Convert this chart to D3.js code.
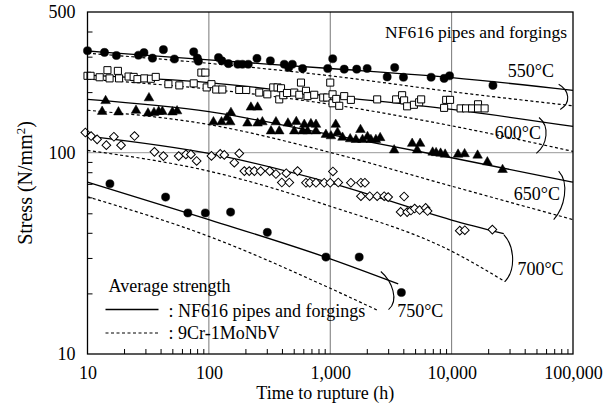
<!DOCTYPE html>
<html>
<head>
<meta charset="utf-8">
<script src="https://cdn.jsdelivr.net/npm/d3@7"></script>
<style>
body { margin: 0; background: #fff; }
text { font-family: "Liberation Serif", "Times New Roman", serif; fill: #000; }
</style>
</head>
<body>
<div id="chart"></div>
<script>
// rupture test points, [time to rupture (h), stress (N/mm2)]
var pts550 = [[10,321],[13.8,315],[17.3,304],[26.3,305],[29.2,314],[34.3,295],[42.2,325],[52,292],[75,317],[80.4,295],[82,285],
  [120,297],[128,286],[145,277],[173,275],[189,275],[211,275],[249,294],[321,286],[418,275],[455,265],[487,275],[592,262],
  [953,262],[1048,293],[1303,260],[1652,260],[2014,262],[2944,238],[3396,265],[4010,237],[6775,237],[8670,234],[9620,241],[21900,216]]
var pts600 = [[10,241],[10.6,241],[12.6,237],[14.6,257],[15.2,234],[17.8,255],[18.2,234],[21.8,239],[24,238],[25.8,232],[29.4,234],
  [33.3,233],[36.5,238],[46.4,219],[57.1,216],[75,221],[86.7,250],[93.5,250],[95.9,211],[105,219],[115,206],[129,206],[178,205],
  [203,205],[260,199],[303,195],[339,211],[368,211],[393,209],[380,184],[410,193],[440,198],[505,199],[574,223],[556,194],
  [631,203],[650,191],[738,194],[875,188],[944,188],[1000,223],[1045,195],[1045,176],[1120,185],[1186,171],[1303,191],[1479,183],
  [2436,184],[3490,184],[3910,193],[4060,182],[4300,170],[4890,173],[5400,178],[5610,184],[9020,183],[9710,183],[8670,167],
  [11860,166],[13150,166],[14750,166],[16500,174],[16500,166],[18700,166]]
var pts650 = [[14.1,181],[13.2,160],[18,159],[25.1,162],[32.1,187],[31.5,157],[35.3,158],[38.6,160],[41.4,160],[50.1,159],[54.7,161],
  [109,142],[127,142],[141,149],[152,158],[150,142],[208,140],[222,168],[252,168],[252,140],[276,142],[325,128],[357,142],[380,128],
  [448,140],[505,128],[525,142.5],[592,128],[611,138],[650,128],[693,139],[763,138],[763,128],[921,123],[1013,121],[1110,138],
  [1148,126],[1262,119],[1460,117],[1627,116],[1775,130],[1844,116],[2027,120],[2162,116],[2377,116],[2578,118.5],[3362,103],
  [4730,111],[5500,111],[5200,103],[6975,100.4],[7450,99.8],[8110,99.2],[8840,98.1],[11300,98.1],[12790,98.6],[16370,97],
  [19700,89.8],[26280,82.3]]
var pts700 = [[9.6,126],[10.7,121],[12,116.5],[14.3,109],[16.5,120],[18.9,109],[24.4,121],[35.6,101],[42.2,96.2],[56.4,96.2],
  [64.7,98.1],[71.1,98.1],[79.3,91],[105,96.4],[124,98.6],[134,97.5],[162,89.2],[178,99.2],[196,81],[215,81],[237,81],[267,81],
  [317,81],[357,78.4],[399,71.1],[434,79.1],[460,71.1],[538,81],[631,70.9],[678,70.9],[763,70.9],[892,70.9],[1000,70.9],
  [1052,80.7],[1164,71.1],[1479,70.9],[1789,70.9],[1930,70.9],[1789,60.8],[2114,60.8],[2436,60.8],[2782,60.8],[3000,60.2],
  [4060,60.6],[3800,50.8],[4300,50.7],[4620,51.6],[4960,52.8],[5450,51.9],[6110,53.2],[6340,51.3],[11670,41],[12840,41.2],[21660,41.5]]
var pts750 = [[15.3,70.1],[44,60.2],[67.1,50.2],[93.5,50.2],[151,50.7],[303,40.2],[921,30.3],[1732,30.3],[3855,20.2]]

// average strength curves
var nf550 = [[10,320],[100,289],[1000,262],[10000,236],[100000,204]]
var cr550 = [[10,312],[100,278],[1000,241],[10000,201],[100000,171]]
var nf600 = [[10,243],[100,223],[1000,191],[10000,164],[100000,135]]
var cr600 = [[10,232],[100,207],[1000,174],[10000,136],[100000,101.5]]
var nf650 = [[10,184],[100,160],[1000,123],[10000,94.4],[100000,71.4]]
var cr650 = [[10,162.5],[100,138],[1000,100.3],[10000,68.2],[100000,46.5]]
var nf700 = [[10,121],[100,99.2],[1000,70.9],[10000,46.3],[26900,39.6]]
var cr700 = [[10,102.7],[100,81],[1000,54.2],[10000,32.4],[27500,22.9]]
var nf750 = [[10,71.4],[100,46.5],[1000,29.7],[3630,22.3]]
var cr750 = [[10,60.4],[100,38.4],[1000,21.2],[2500,16.4]]

var temps = ['550°C', '600°C', '650°C', '700°C', '750°C']
var xTicks = [10, 100, 1000, 10000, 100000]
var yTicks = [10, 100, 500]

// bracket ends and label anchors, in data units
var brackets = [[76200,219,78500,164],[52500,149.5,49900,99.2],[76200,81,69300,46.5],[26900,39.2,27500,22.9],[2610,25.7,3020,16.6]]
var labelAt = [[69700,237,'end'],[54400,116.5,'end'],[78200,58.5,'end'],[83700,24.8,'end'],[3560,15.3,'start']]

var width = 604, height = 414
var pl = 87.5, pr = 573, pt = 12, pb = 354

var x = d3.scaleLog().domain([10, 100000]).range([pl, pr])
var y = d3.scaleLog().domain([10, 500]).range([pb, pt])

var svg = d3.select('#chart').append('svg')
    .attr('width', width)
    .attr('height', height)

// grid
svg.append('g').selectAll('line')
    .data([100, 1000, 10000])
    .enter().append('line')
    .attr('x1', d => x(d)).attr('x2', d => x(d))
    .attr('y1', pt).attr('y2', pb)
    .attr('stroke', '#777').attr('stroke-width', 1)
svg.append('line')
    .attr('x1', pl).attr('x2', pr)
    .attr('y1', y(100)).attr('y2', y(100))
    .attr('stroke', '#999').attr('stroke-width', 1)

// minor ticks, inside
var minorX = [], minorY = []
for (var e = 10; e < 100000; e *= 10) for (var k = 2; k <= 9; k++) minorX.push(k * e)
for (var e = 10; e < 500; e *= 10) for (var k = 2; k <= 9; k++) if (k * e < 500) minorY.push(k * e)

svg.append('g')
    .attr('transform', 'translate(0,' + pb + ')')
    .call(d3.axisBottom(x).tickValues(minorX).tickSize(-5).tickFormat(''))
    .call(g => g.select('.domain').remove())
svg.append('g')
    .attr('transform', 'translate(' + pl + ',0)')
    .call(d3.axisLeft(y).tickValues(minorY).tickSize(-5).tickFormat(''))
    .call(g => g.select('.domain').remove())

// tick labels
svg.append('g')
    .attr('transform', 'translate(0,' + pb + ')')
    .call(d3.axisBottom(x).tickValues(xTicks).tickSize(0).tickPadding(12).tickFormat(d3.format(',')))
    .call(g => g.select('.domain').remove())
    .selectAll('text').style('font-size', '18px').style('font-family', '"Liberation Serif", serif')
svg.append('g')
    .attr('transform', 'translate(' + pl + ',0)')
    .call(d3.axisLeft(y).tickValues(yTicks).tickSize(0).tickPadding(12).tickFormat(d3.format('d')))
    .call(g => g.select('.domain').remove())
    .selectAll('text').style('font-size', '18px').style('font-family', '"Liberation Serif", serif')

// curves
var line = d3.line()
    .x(d => x(d[0]))
    .y(d => y(d[1]))
    .curve(d3.curveMonotoneX)

var solids = [nf550, nf600, nf650, nf700, nf750]
var dashes = [cr550, cr600, cr650, cr700, cr750]

svg.append('g').selectAll('path')
    .data(dashes)
    .enter().append('path')
    .attr('d', line)
    .attr('fill', 'none').attr('stroke', '#000')
    .attr('stroke-width', 1.2).attr('stroke-dasharray', '3,2.5')
svg.append('g').selectAll('path')
    .data(solids)
    .enter().append('path')
    .attr('d', line)
    .attr('fill', 'none').attr('stroke', '#000')
    .attr('stroke-width', 1.3)

// points
var sym = [
    {data: pts550, type: d3.symbolCircle, size: 52, fill: '#000', rot: 0},
    {data: pts600, type: d3.symbolSquare, size: 50, fill: '#fff', rot: 0},
    {data: pts650, type: d3.symbolTriangle, size: 40, fill: '#000', rot: 0},
    {data: pts700, type: d3.symbolSquare, size: 38, fill: '#fff', rot: 45},
    {data: pts750, type: d3.symbolCircle, size: 52, fill: '#000', rot: 0}
]
sym.forEach(function (s) {
    svg.append('g').selectAll('path')
        .data(s.data)
        .enter().append('path')
        .attr('d', d3.symbol().type(s.type).size(s.size))
        .attr('transform', d => 'translate(' + x(d[0]) + ',' + y(d[1]) + ') rotate(' + s.rot + ')')
        .attr('fill', s.fill)
        .attr('stroke', '#000')
        .attr('stroke-width', s.fill == '#fff' ? 1 : 0.5)
})

// brackets and temperature labels
svg.append('g').selectAll('path')
    .data(brackets)
    .enter().append('path')
    .attr('d', function (b) {
        var x1 = x(b[0]), y1 = y(b[1]), x2 = x(b[2]), y2 = y(b[3]), h = y2 - y1, bw = 11
        return 'M' + x1 + ',' + y1 + 'C' + (x1 + bw) + ',' + (y1 + h * 0.25) + ' ' + (x2 + bw) + ',' + (y2 - h * 0.25) + ' ' + x2 + ',' + y2
    })
    .attr('fill', 'none').attr('stroke', '#000').attr('stroke-width', 1.1)

svg.append('g').selectAll('text')
    .data(temps)
    .enter().append('text')
    .attr('x', (d, i) => x(labelAt[i][0]))
    .attr('y', (d, i) => y(labelAt[i][1]))
    .attr('text-anchor', (d, i) => labelAt[i][2])
    .style('font-size', '18px')
    .text(d => d)

svg.append('text')
    .attr('x', pr - 6).attr('y', pt + 26)
    .attr('text-anchor', 'end')
    .style('font-size', '17.5px')
    .text('NF616 pipes and forgings')

// legend
var lg = svg.append('g').attr('transform', 'translate(' + (pl + 18) + ',' + (pb - 62) + ')')
lg.append('text').attr('x', 3).attr('y', 0).style('font-size', '18px').text('Average strength')
lg.append('line').attr('x1', 0).attr('x2', 53).attr('y1', 17.5).attr('y2', 17.5)
    .attr('stroke', '#000').attr('stroke-width', 1.3)
lg.append('text').attr('x', 63).attr('y', 25).style('font-size', '18px').text(': NF616 pipes and forgings')
lg.append('line').attr('x1', 0).attr('x2', 53).attr('y1', 41).attr('y2', 41)
    .attr('stroke', '#000').attr('stroke-width', 1.2).attr('stroke-dasharray', '3,2.5')
lg.append('text').attr('x', 63).attr('y', 47).style('font-size', '18px').text(': 9Cr-1MoNbV')

// frame
svg.append('rect')
    .attr('x', pl).attr('y', pt)
    .attr('width', pr - pl).attr('height', pb - pt)
    .attr('fill', 'none').attr('stroke', '#000').attr('stroke-width', 1.3)

// axis titles
svg.append('text')
    .attr('x', (pl + pr) / 2 - 5).attr('y', 399)
    .attr('text-anchor', 'middle')
    .style('font-size', '18px')
    .text('Time to rupture (h)')
var yt = svg.append('text')
    .attr('transform', 'translate(32,' + (pt + pb) / 2 + ') rotate(-90)')
    .attr('text-anchor', 'middle')
    .style('font-size', '20px')
yt.append('tspan').text('Stress (N/mm')
yt.append('tspan').attr('dy', -7).style('font-size', '13px').text('2')
yt.append('tspan').attr('dy', 7).text(')')
</script>
</body>
</html>
